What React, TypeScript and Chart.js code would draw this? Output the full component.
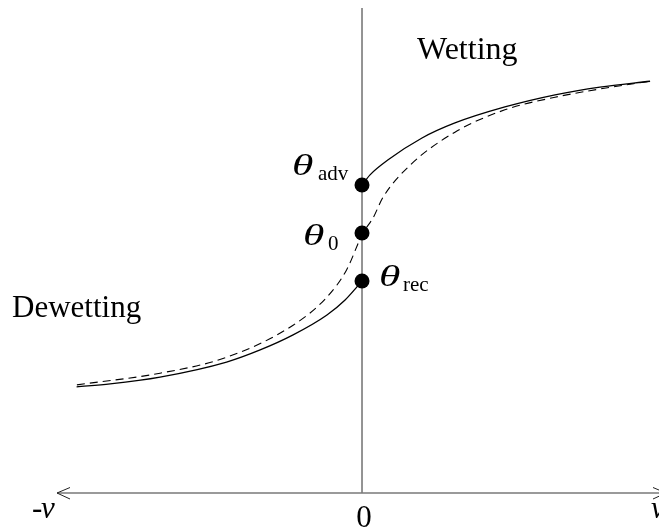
import React, { useEffect, useRef } from "react";
import { Chart, registerables } from "chart.js";
Chart.register(...registerables);

// x in units of the contact-line speed v (0 at the vertical axis), y = contact angle (arbitrary units)
const xMin = -1.027;
const xMax = 1.0;
const yMin = 0;
const yMax = 100;

const solidLeftX = [-0.961, -0.848, -0.68, -0.456, -0.343, -0.232, -0.118, -0.057, -0.017, 0];
const solidLeftY = [21.9, 22.5, 23.9, 27.0, 29.5, 32.6, 36.7, 39.8, 42.5, 43.7];

const solidRightX = [0, 0.027, 0.088, 0.202, 0.313, 0.481, 0.65, 0.801, 0.97];
const solidRightY = [63.5, 65.6, 68.7, 73.2, 76.3, 79.6, 82.1, 83.7, 84.9];

const dashedX = [-0.96, -0.68, -0.455, -0.232, -0.118, -0.052, 0.003, 0.037, 0.071, 0.162, 0.313, 0.481, 0.65, 0.801, 0.97];
const dashedY = [22.3, 24.7, 28.0, 34.6, 40.4, 46.0, 53.6, 56.7, 61.0, 67.6, 74.4, 79.0, 81.6, 83.3, 84.9];

const markerNames = ["adv", "0", "rec"];
const markerX = [0, 0, 0];
const markerY = [63.5, 53.6, 43.7];

const SERIF = '"Liberation Serif", "Times New Roman", serif';

export default function App() {
  const ref = useRef<HTMLCanvasElement>(null);

  useEffect(() => {
    document.body.style.margin = "0";
    const toPts = (xs: number[], ys: number[]) => xs.map((x, i) => ({ x, y: ys[i] }));

    const axesPlugin = {
      id: "axesDecor",
      beforeDatasetsDraw(chart: any) {
        const { ctx, chartArea } = chart;
        const xs = chart.scales.x;
        const ys = chart.scales.y;
        const x0 = xs.getPixelForValue(0);
        const y0 = ys.getPixelForValue(yMin);
        ctx.save();
        ctx.strokeStyle = "#7a7a7a";
        ctx.lineWidth = 1.6;
        ctx.beginPath();
        ctx.moveTo(x0, chartArea.top);
        ctx.lineTo(x0, y0);
        ctx.moveTo(chartArea.left, y0);
        ctx.lineTo(chartArea.right, y0);
        ctx.stroke();
        // arrow heads
        ctx.strokeStyle = "#222";
        ctx.lineWidth = 1;
        ctx.beginPath();
        const l = chartArea.left;
        ctx.moveTo(l + 13, y0 - 5.5);
        ctx.lineTo(l, y0);
        ctx.lineTo(l + 13, y0 + 6);
        const r = chartArea.right + 7;
        ctx.moveTo(r - 13, y0 - 5.5);
        ctx.lineTo(r, y0);
        ctx.lineTo(r - 13, y0 + 6);
        ctx.stroke();
        ctx.restore();
      },
    };

    const labelsPlugin = {
      id: "labelsDecor",
      afterDraw(chart: any) {
        const { ctx, chartArea } = chart;
        const xs = chart.scales.x;
        const ys = chart.scales.y;
        const x0 = xs.getPixelForValue(0);
        const y0 = ys.getPixelForValue(yMin);
        ctx.save();
        ctx.fillStyle = "#000";
        ctx.textBaseline = "alphabetic";
        ctx.textAlign = "left";
        ctx.font = `32px ${SERIF}`;
        ctx.fillText("Wetting", x0 + 55, 59);
        ctx.font = `31px ${SERIF}`;
        ctx.fillText("Dewetting", 12, 317);
        ctx.textAlign = "center";
        ctx.fillText("0", x0 + 2, y0 + 34);
        ctx.textAlign = "left";
        ctx.fillText("-", chartArea.left - 25, y0 + 25);
        ctx.font = `italic 31px ${SERIF}`;
        ctx.fillText("v", chartArea.left - 16, y0 + 25);
        ctx.fillText("v", chartArea.right - 8, y0 + 25);

        const offs = [
          { tx: -70, ty: -10, sx: -44, sy: -5 },
          { tx: -59, ty: 12, sx: -34, sy: 17 },
          { tx: 17, ty: 5, sx: 41, sy: 10 },
        ];
        markerNames.forEach((name, i) => {
          const px = xs.getPixelForValue(markerX[i]);
          const py = ys.getPixelForValue(markerY[i]);
          const o = offs[i];
          ctx.save();
          ctx.translate(px + o.tx, py + o.ty);
          ctx.scale(1.45, 1);
          ctx.font = `italic 30px ${SERIF}`;
          ctx.fillText("\u03B8", 0, 0);
          ctx.restore();
          ctx.font = `21px ${SERIF}`;
          ctx.fillText(name, px + o.sx, py + o.sy);
        });
        ctx.restore();
      },
    };

    const lineCommon = {
      showLine: true,
      borderColor: "#000",
      pointRadius: 0,
      cubicInterpolationMode: "monotone" as const,
      fill: false,
    };

    const chart = new Chart(ref.current!, {
      type: "scatter",
      data: {
        datasets: [
          { ...lineCommon, data: toPts(dashedX, dashedY), borderWidth: 1.1, borderDash: [8, 5] },
          { ...lineCommon, data: toPts(solidLeftX, solidLeftY), borderWidth: 1.3 },
          { ...lineCommon, data: toPts(solidRightX, solidRightY), borderWidth: 1.3 },
          {
            data: toPts(markerX, markerY),
            showLine: false,
            pointRadius: 7.5,
            pointBackgroundColor: "#000",
            pointBorderWidth: 0,
            pointBorderColor: "#000",
          },
        ],
      },
      options: {
        animation: false,
        responsive: false,
        events: [],
        layout: { autoPadding: false, padding: { left: 57, right: 0, top: 8, bottom: 37 } },
        scales: {
          x: { type: "linear", min: xMin, max: xMax, display: false },
          y: { type: "linear", min: yMin, max: yMax, display: false },
        },
        plugins: { legend: { display: false }, tooltip: { enabled: false } },
      },
      plugins: [axesPlugin, labelsPlugin],
    });
    return () => chart.destroy();
  }, []);

  return <canvas ref={ref} width={659} height={530} style={{ display: "block", width: 659, height: 530 }} />;
}
